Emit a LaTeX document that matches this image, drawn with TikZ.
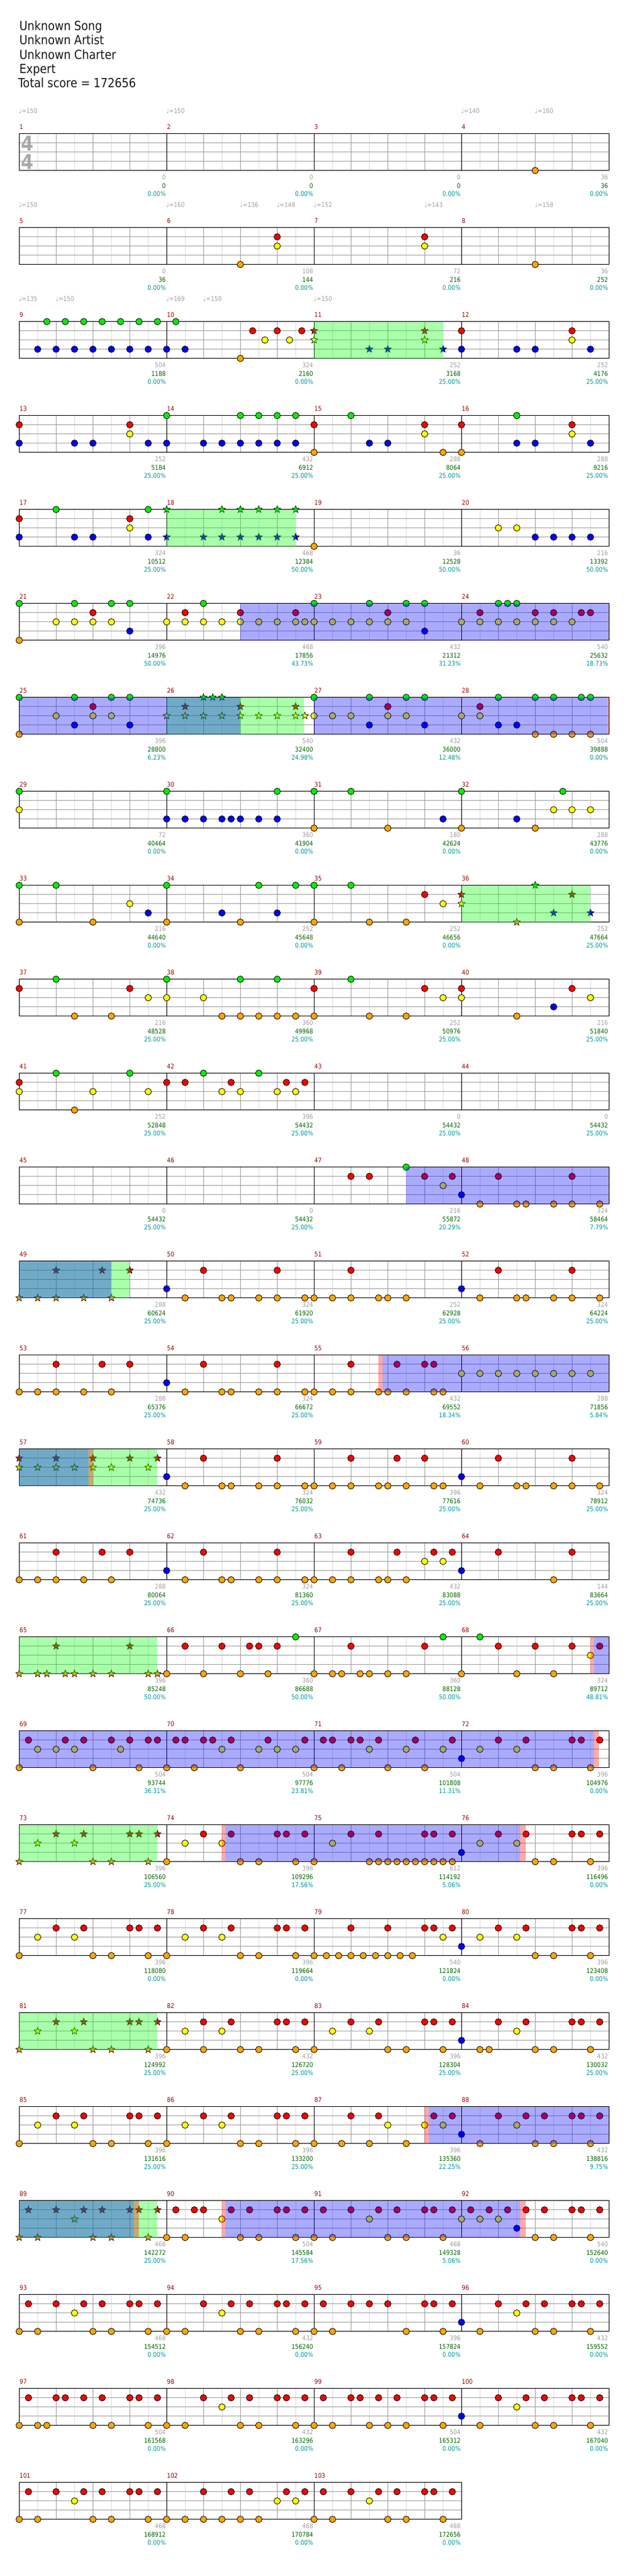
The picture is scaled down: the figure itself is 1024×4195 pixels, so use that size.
\documentclass[tikz,border=0pt]{standalone}
\usepackage{fontspec}
\newfontfamily\cond{DejaVu Sans}[FakeStretch=0.88]
\definecolor{ng}{RGB}{0,240,0}
\definecolor{nr}{RGB}{255,0,0}
\definecolor{ny}{RGB}{255,255,0}
\definecolor{nb}{RGB}{0,0,255}
\definecolor{no}{RGB}{255,165,0}
\definecolor{ovG}{RGB}{0,255,0}
\definecolor{ovB}{RGB}{0,0,255}
\definecolor{ovR}{RGB}{255,0,0}
\definecolor{mred}{RGB}{150,0,0}
\definecolor{gtxt}{RGB}{160,160,160}
\definecolor{dgtxt}{RGB}{0,100,0}
\definecolor{ttxt}{RGB}{0,150,150}
\definecolor{lgrid}{RGB}{220,220,220}
\definecolor{mgrid}{RGB}{160,160,160}
\definecolor{tsig}{RGB}{168,168,168}
\def\lng{0}\def\lnr{1}\def\lny{2}\def\lnb{3}\def\lno{4}
\tikzset{
  hdr/.style={anchor=base west, inner sep=0, text={black!90}, font=\cond\fontsize{20.5}{24}\selectfont},
  lbl/.style={anchor=base east, inner sep=0, font=\cond\fontsize{10.5}{12}\selectfont},
  mnum/.style={anchor=base west, inner sep=0, text=mred, font=\cond\fontsize{10.5}{12}\selectfont},
  tmp/.style={anchor=base west, inner sep=0, text=gtxt, font=\cond\fontsize{10.5}{12}\selectfont},
  tsg/.style={anchor=center, inner sep=0, text=tsig, font=\cond\bfseries\fontsize{33}{33}\selectfont},
  notec/.style={draw=black, line width=0.8pt},
  gl/.style={line width=1pt}
}
\def\starpath{(0,-6.2) -- (-1.5,-2.05) -- (-5.9,-1.9) -- (-2.4,0.78) -- (-3.65,5.0) -- (0,2.55) -- (3.65,5.0) -- (2.4,0.78) -- (5.9,-1.9) -- (1.5,-2.05) -- cycle}
% staff row: #1 row index, #2 number of measures
\newcommand\Row[2]{%
  \pgfmathsetmacro\yt{217.7+153*#1}%
  \pgfmathtruncatemacro\nn{8*#2-1}%
  \foreach \i in {1,3,...,\nn}{\draw[gl,lgrid] (31.3+30*\i,\yt) -- ++(0,60);}%
  \pgfmathtruncatemacro\mm{#2-1}%
  \foreach \k in {0,...,\mm}{\foreach \b in {1,2,3}{\draw[gl,mgrid] (31.3+240*\k+60*\b,\yt) -- ++(0,60);}}%
  \foreach \l in {1,2,3}{\draw[gl,mgrid] (31.3,\yt+15*\l) -- ++(240*#2,0);}%
  \draw[gl,black] (31.3,\yt) rectangle ++(240*#2,60);%
  \ifnum#2>1 \foreach \k in {1,...,\mm}{\draw[gl,black] (31.3+240*\k,\yt) -- ++(0,60);}\fi
}
% measure labels
\newcommand\Meas[4]{%
  \pgfmathtruncatemacro\rr{(#1-1)/4}%
  \pgfmathtruncatemacro\cc{#1-1-4*\rr}%
  \pgfmathsetmacro\xa{31.3+240*\cc}%
  \pgfmathsetmacro\yt{217.7+153*\rr}%
  \node[mnum] (mn#1) at (\xa+0.4,\yt-7.4) {#1};
  \node[lbl,text=gtxt] (sa#1) at (\xa+238.7,\yt+75.2) {#2};
  \node[lbl,text=dgtxt] (sb#1) at (\xa+238.7,\yt+88.4) {#3};
  \node[lbl,text=ttxt] (sc#1) at (\xa+238.7,\yt+101.7) {#4};
}
% tempo
\newcommand\T[3]{%
  \pgfmathtruncatemacro\rr{(#1-1)/4}%
  \pgfmathtruncatemacro\cc{#1-1-4*\rr}%
  \node[tmp] (tp#1x#2) at (31.3+240*\cc+60*#2-0.6,184.3+153*\rr) {♩=#3};
}
% notes
\newcommand\M[2]{%
  \pgfmathtruncatemacro\rr{(#1-1)/4}%
  \pgfmathtruncatemacro\cc{#1-1-4*\rr}%
  \edef\tmplist{#2}%
  \foreach \bt/\cl in \tmplist{%
    \fill[notec,fill=n\cl] (31.3+240*\cc+60*\bt,217.7+153*\rr+15*\csname ln\cl\endcsname) circle[radius=5.3];
  }}
% star notes
\newcommand\St[2]{%
  \pgfmathtruncatemacro\rr{(#1-1)/4}%
  \pgfmathtruncatemacro\cc{#1-1-4*\rr}%
  \edef\tmplist{#2}%
  \foreach \bt/\cl in \tmplist{%
    \filldraw[notec,line width=0.6pt,fill=n\cl,shift={(31.3+240*\cc+60*\bt,217.7+153*\rr+15*\csname ln\cl\endcsname)}] \starpath;
  }}
% overlays: colour, m1, b1, m2, b2 (same row)
\newcommand\ov[5]{%
  \pgfmathtruncatemacro\rr{(#2-1)/4}%
  \pgfmathtruncatemacro\ca{#2-1-4*\rr}%
  \pgfmathtruncatemacro\cb{#4-1-4*\rr}%
  \fill[fill=ov#1,fill opacity=0.333] (31.3+240*\ca+60*#3,217.7+153*\rr) rectangle (31.3+240*\cb+60*#5,277.7+153*\rr);
}
\def\pA{0/b,0.5/o,1/r,1.5/o,1.75/o,2.5/o,3/r,3/o,3.75/o}
\def\pB{0/o,0.5/y,1/r,1.5/y,1.75/r,2/o,2.5/o,3/r,3.25/r,3.5/o,3.75/r}
\def\pC{0/b,0.5/y,1/r,1.5/y,1.75/r,2/o,2.5/o,3/r,3.25/r,3.5/o,3.75/r}
\def\pD{0/o,0.25/r,0.5/o,1/r,1.5/y,1.75/r,2/o,2.25/r,2.5/o,3/r,3.25/r,3.5/o,3.75/r}
\def\pE{0/b,0.5/o,1/r,1.5/y,1.75/r,2/o,2.25/r,2.5/o,3/r,3.25/r,3.5/o,3.75/r}
\def\pF{0/o,0.5/o,1/r,1/o,1.75/o,2.25/r,2.5/o,3/r}
\begin{document}
\begin{tikzpicture}[x=1pt,y=-1pt]
\fill[white] (0,0) rectangle (1024,4195);
\useasboundingbox (0,0) rectangle (1024,4195);
% header
\node[hdr] (song) at (31.3,49.3) {Unknown Song};
\node[hdr] (artist) at (31.3,72.7) {Unknown Artist};
\node[hdr] (charter) at (31.3,96) {Unknown Charter};
\node[hdr] (diff) at (31.3,119.3) {Expert};
\node[hdr] (total) at (29.3,142.7) {Total score = 172656};
% staves
\foreach \r in {0,...,24}{\Row{\r}{4}}
\Row{25}{3}
\node[tsg] (tsa) at (44.5,233) {4};
\node[tsg] (tsb) at (44.5,263) {4};
% tempos
\T{1}{0}{150}\T{2}{0}{150}\T{4}{0}{140}\T{4}{2}{160}
\T{5}{0}{150}\T{6}{0}{160}\T{6}{2}{136}\T{6}{3}{148}\T{7}{0}{152}\T{7}{3}{143}\T{8}{2}{158}
\T{9}{0}{135}\T{9}{1}{150}\T{10}{0}{169}\T{10}{1}{150}\T{11}{0}{150}
% notes
\M{4}{2/o}
\M{6}{2/o,3/r,3/y}
\M{7}{3/r,3/y}
\M{8}{2/o}
\M{9}{0.75/g,1.25/g,1.75/g,2.25/g,2.75/g,3.25/g,3.75/g,0.5/b,1/b,1.5/b,2/b,2.5/b,3/b,3.5/b}
\M{10}{0.25/g,0/b,0.5/b,2/o,2.3333/r,2.6667/y,3/r,3.3333/y,3.6667/r}
\St{11}{0/r,0/y,1.5/b,2/b,3/r,3/y,3.5/b}
\M{12}{0/r,0/b,1.5/b,2/b,3/r,3/y,3.5/b}
\M{13}{0/r,0/b,1.5/b,2/b,3/r,3/y,3.5/b}
\M{14}{0/g,0/b,1/b,1.5/b,2/g,2/b,2.5/g,2.5/b,3/g,3/b,3.5/g,3.5/b}
\M{15}{0/r,0/o,1/g,1.5/b,2/b,3/r,3/y,3.5/o}
\M{16}{0/r,0/o,1.5/g,1.5/b,2/b,3/r,3/y,3.5/b}
\M{17}{0/r,0/b,1/g,1.5/b,2/b,3/r,3/y,3.5/g,3.5/b}
\St{18}{0/g,0/b,1/b,1.5/g,1.5/b,2/g,2/b,2.5/g,2.5/b,3/g,3/b,3.5/g,3.5/b}
\M{19}{0/o}
\M{20}{1/y,1.5/y,2/b,2.5/b,3/b,3.5/b}
\M{21}{0/g,0/o,1/y,1.5/g,1.5/y,2/r,2/y,2.5/g,2.5/y,3/g,3/b}
\M{22}{0/y,0.5/r,0.5/y,1/g,1/y,1.5/y,2/r,2/y,2.5/y,3/y,3.5/r,3.5/y,3.75/y}
\M{23}{0/g,0/y,0.5/y,1/y,1.5/g,1.5/y,2/r,2/y,2.5/g,2.5/y,3/g,3/b}
\M{24}{0/y,0.5/r,0.5/y,1/g,1/y,1.25/g,1.5/g,1.5/y,2/r,2/y,2.5/r,2.5/y,3/y,3.25/r,3.5/r}
\M{25}{0/g,0/o,1/y,1.5/g,1.5/b,2/r,2/y,2.5/g,2.5/y,3/g,3/b}
\St{26}{0/y,0.5/r,0.5/y,1/g,1/y,1.25/g,1.5/g,1.5/y,2/r,2/y,2.5/y,3/y,3.5/r,3.5/y,3.75/y}
\M{27}{0/g,0/y,0.5/y,1/y,1.5/g,1.5/b,2/r,2/y,2.5/g,2.5/y,3/g,3/b}
\M{28}{0/y,0.5/r,0.5/y,1/g,1/b,1.5/b,2/g,2/o,2.5/g,2.5/o,3/o,3.25/g,3.5/g,3.5/o}
\M{29}{0/g,0/y}
\M{30}{0/g,0/b,0.5/b,1/b,1.5/b,1.75/b,2/b,2.5/b,3/g,3/b}
\M{31}{0/g,0/o,1/g,2/o,3.5/b}
\M{32}{0/g,0/o,1.5/b,2/o,2.5/y,2.75/g,3/y,3.5/y}
\M{33}{0/g,0/o,1/g,2/o,3/y,3.5/b}
\M{34}{0/g,0/o,1.5/b,2/o,2.5/g,3/b,3.5/g}
\M{35}{0/g,0/o,1/g,1.5/o,2.5/o,3/r,3.5/y}
\St{36}{0/r,0/y,1.5/o,2/g,2.5/b,3/r,3.5/b}
\M{37}{0/r,1/g,1.5/o,2.5/o,3/r,3.5/y}
\M{38}{0/g,0/y,1/y,1.5/o,2/g,2/o,2.5/o,3/g,3/o,3.5/o}
\M{39}{0/r,0/o,1/g,1.5/o,2.5/o,3/r,3.5/y}
\M{40}{0/r,0/y,1.5/o,2.5/b,3/r,3.5/y}
\M{41}{0/r,0/y,1/g,1.5/o,2/y,3/g,3.5/y}
\M{42}{0/r,0.5/r,1/g,1.5/y,1.75/r,2/y,2.5/g,3/y,3.25/r,3.5/y,3.75/r}
\M{47}{1/r,1.5/r,2.5/g,3/r,3.5/y,3.75/r}
\M{48}{\pA}
\St{49}{0/o,0.5/o,1/r,1/o,1.75/o,2.25/r,2.5/o,3/r}
\M{50}{\pA}
\M{51}{0/o,0.5/o,1/r,1/o,1.75/o,2/o,2.5/o}
\M{52}{\pA}
\M{53}{\pF}
\M{54}{\pA}
\M{55}{0/o,0.5/o,1/r,1/o,1.75/o,2/o,2.25/r,2.5/o,3/r,3.25/r,3.25/o,3.5/o}
\M{56}{0/y,0.5/y,1/y,1.5/y,2/y,2.5/y,3/y,3.5/y}
\St{57}{0/r,0/y,0.5/y,1/r,1/y,1.5/y,2/r,2/y,2.5/y,3/r,3.5/y,3.75/r}
\M{58}{\pA}
\M{59}{0/o,0.5/o,1/r,1/o,1.75/o,2/o,2.25/r,2.5/o,3/r,3.25/o,3.5/o}
\M{60}{\pA}
\M{61}{\pF}
\M{62}{\pA}
\M{63}{0/o,0.5/o,1/r,1/o,1.75/o,2/o,2.25/r,2.5/o,3/y,3.25/r,3.5/y,3.75/r}
\M{64}{0/b,1/r,2.5/o,3/r}
\St{65}{0/o,0.5/o,0.75/o,1/r,1.25/o,1.5/o,2/o,2.5/o,3/r,3.5/o,3.75/o}
\M{66}{0/o,0.5/r,1/o,1.5/r,2/o,2.25/r,2.5/r,2.75/o,3/r,3.5/g}
\M{67}{0/o,0.5/o,0.75/o,1/r,1.25/o,1.5/o,2/o,2.5/o,3/r,3.5/g}
\M{68}{0/o,0.5/g,1/r,1.5/o,2/r,2.5/o,3/r,3.5/y,3.75/r}
\M{69}{0/o,0.25/r,0.5/y,1/y,1.25/r,1.5/y,1.75/r,2/o,2.5/r,2.75/y,3/r,3.25/o,3.5/r,3.75/r}
\M{70}{0/o,0.25/r,0.5/r,0.75/o,1/r,1.25/r,1.5/y,1.75/r,2/o,2.5/y,2.75/r,3/y,3.5/y,3.75/r}
\M{71}{0/o,0.25/r,0.5/r,0.75/o,1/r,1.25/r,1.5/y,1.75/r,2/o,2.5/y,2.75/r,3/o,3.5/y,3.75/r}
\M{72}{\pC}
\St{73}{\pB}
\M{74}{\pB}
\M{75}{0/o,0.5/y,1/r,1.5/o,1.75/r,1.75/o,2/o,2.25/o,2.5/o,2.75/o,3/r,3/o,3.25/r,3.25/o,3.5/o,3.75/r,3.75/o}
\M{76}{\pC}
\M{77}{\pB}
\M{78}{\pB}
\M{79}{0/o,0.3333/o,0.6667/o,1/r,1/o,1.3333/o,1.6667/o,2/r,2/o,2.3333/o,2.6667/o,3/r,3.25/r,3.5/y,3.75/r}
\M{80}{\pC}
\St{81}{\pB}
\M{82}{0/o,0.5/y,1/r,1/o,1.5/y,1.75/r,2/o,2.5/o,3/r,3.25/r,3.5/o,3.75/r}
\M{83}{\pB}
\M{84}{0/b,0.5/o,0.75/o,1/r,1.5/y,1.75/r,2/o,2.5/o,3/r,3.25/r,3.5/o,3.75/r}
\M{85}{\pB}
\M{86}{\pB}
\M{87}{0/o,0.75/o,1/r,1.5/o,1.75/r,2/y,2.5/o,3/y,3.25/r,3.5/y,3.75/r}
\M{88}{\pE}
\St{89}{\pD}
\M{90}{0/o,0.25/r,0.5/o,0.75/r,1/r,1.5/y,1.75/r,2/o,2.25/r,2.5/o,3/r,3.25/r,3.5/o,3.75/r}
\M{91}{\pD}
\M{92}{0/y,0.25/r,0.5/y,0.75/r,1/y,1.25/r,1.5/b,1.75/r,2/o,2.25/r,2.5/o,3/r,3.25/r,3.5/o,3.75/r}
\M{93}{\pD}
\M{94}{0/o,0.5/o,1/r,1.5/y,1.75/r,2/o,2.25/r,2.5/o,3/r,3.25/r,3.5/o,3.75/r}
\M{95}{0/o,0.25/r,0.5/o,1/r,1.5/r,2/r,2.5/o,3/r,3.25/r,3.5/o,3.75/r}
\M{96}{\pE}
\M{97}{0/o,0.25/r,0.5/o,0.75/o,1/r,1.25/r,1.75/r,2/o,2.25/r,2.5/o,3/r,3.25/r,3.5/o,3.75/r}
\M{98}{0/o,0.5/o,1/r,1.5/y,1.75/r,2/o,2.25/r,2.5/o,3/r,3.25/r,3.5/o,3.75/r}
\M{99}{0/o,0.25/r,0.5/o,1/r,1.25/r,1.5/o,1.75/r,2/o,2.25/r,2.5/o,3/r,3.25/r,3.5/o,3.75/r}
\M{100}{\pE}
\M{101}{\pD}
\M{102}{0/o,0.5/o,1/r,1/o,1.5/o,1.75/r,2/o,2.25/r,2.5/o,3/y,3.25/r,3.5/y,3.75/r}
\M{103}{\pD}
% overlays
\ov{G}{11}{0}{11}{3.5}
\ov{G}{18}{0}{18}{3.5}
\ov{G}{26}{0}{26}{3.73}
\ov{G}{36}{0}{36}{3.5}
\ov{G}{49}{0}{49}{3}
\ov{G}{57}{0}{57}{3.74}
\ov{G}{65}{0}{65}{3.74}
\ov{G}{73}{0}{73}{3.74}
\ov{G}{81}{0}{81}{3.74}
\ov{G}{89}{0}{89}{3.74}
\ov{B}{22}{2}{24}{4}
\ov{B}{25}{0}{26}{2}
\ov{B}{27}{0}{28}{3.96}\ov{R}{28}{3.96}{28}{4}
\ov{B}{47}{2.5}{48}{4}
\ov{B}{49}{0}{49}{2.5}
\ov{R}{55}{1.75}{55}{1.86}\ov{B}{55}{1.86}{56}{4}
\ov{B}{57}{0}{57}{1.87}\ov{R}{57}{1.87}{57}{2}
\ov{R}{68}{3.5}{68}{3.6}\ov{B}{68}{3.6}{68}{4}
\ov{B}{69}{0}{72}{3.6}\ov{R}{72}{3.6}{72}{3.73}
\ov{R}{74}{1.5}{74}{1.6}\ov{B}{74}{1.6}{76}{1.6}\ov{R}{76}{1.6}{76}{1.74}
\ov{R}{87}{3}{87}{3.11}\ov{B}{87}{3.11}{88}{4}
\ov{B}{89}{0}{89}{3.11}\ov{R}{89}{3.11}{89}{3.24}
\ov{R}{90}{1.5}{90}{1.6}\ov{B}{90}{1.6}{92}{1.6}\ov{R}{92}{1.6}{92}{1.74}
% measure labels
\Meas{1}{0}{0}{0.00\%}\Meas{2}{0}{0}{0.00\%}\Meas{3}{0}{0}{0.00\%}\Meas{4}{36}{36}{0.00\%}
\Meas{5}{0}{36}{0.00\%}\Meas{6}{108}{144}{0.00\%}\Meas{7}{72}{216}{0.00\%}\Meas{8}{36}{252}{0.00\%}
\Meas{9}{504}{1188}{0.00\%}\Meas{10}{324}{2160}{0.00\%}\Meas{11}{252}{3168}{25.00\%}\Meas{12}{252}{4176}{25.00\%}
\Meas{13}{252}{5184}{25.00\%}\Meas{14}{432}{6912}{25.00\%}\Meas{15}{288}{8064}{25.00\%}\Meas{16}{288}{9216}{25.00\%}
\Meas{17}{324}{10512}{25.00\%}\Meas{18}{468}{12384}{50.00\%}\Meas{19}{36}{12528}{50.00\%}\Meas{20}{216}{13392}{50.00\%}
\Meas{21}{396}{14976}{50.00\%}\Meas{22}{468}{17856}{43.73\%}\Meas{23}{432}{21312}{31.23\%}\Meas{24}{540}{25632}{18.73\%}
\Meas{25}{396}{28800}{6.23\%}\Meas{26}{540}{32400}{24.98\%}\Meas{27}{432}{36000}{12.48\%}\Meas{28}{504}{39888}{0.00\%}
\Meas{29}{72}{40464}{0.00\%}\Meas{30}{360}{41904}{0.00\%}\Meas{31}{180}{42624}{0.00\%}\Meas{32}{288}{43776}{0.00\%}
\Meas{33}{216}{44640}{0.00\%}\Meas{34}{252}{45648}{0.00\%}\Meas{35}{252}{46656}{0.00\%}\Meas{36}{252}{47664}{25.00\%}
\Meas{37}{216}{48528}{25.00\%}\Meas{38}{360}{49968}{25.00\%}\Meas{39}{252}{50976}{25.00\%}\Meas{40}{216}{51840}{25.00\%}
\Meas{41}{252}{52848}{25.00\%}\Meas{42}{396}{54432}{25.00\%}\Meas{43}{0}{54432}{25.00\%}\Meas{44}{0}{54432}{25.00\%}
\Meas{45}{0}{54432}{25.00\%}\Meas{46}{0}{54432}{25.00\%}\Meas{47}{216}{55872}{20.29\%}\Meas{48}{324}{58464}{7.79\%}
\Meas{49}{288}{60624}{25.00\%}\Meas{50}{324}{61920}{25.00\%}\Meas{51}{252}{62928}{25.00\%}\Meas{52}{324}{64224}{25.00\%}
\Meas{53}{288}{65376}{25.00\%}\Meas{54}{324}{66672}{25.00\%}\Meas{55}{432}{69552}{18.34\%}\Meas{56}{288}{71856}{5.84\%}
\Meas{57}{432}{74736}{25.00\%}\Meas{58}{324}{76032}{25.00\%}\Meas{59}{396}{77616}{25.00\%}\Meas{60}{324}{78912}{25.00\%}
\Meas{61}{288}{80064}{25.00\%}\Meas{62}{324}{81360}{25.00\%}\Meas{63}{432}{83088}{25.00\%}\Meas{64}{144}{83664}{25.00\%}
\Meas{65}{396}{85248}{50.00\%}\Meas{66}{360}{86688}{50.00\%}\Meas{67}{360}{88128}{50.00\%}\Meas{68}{324}{89712}{48.81\%}
\Meas{69}{504}{93744}{36.31\%}\Meas{70}{504}{97776}{23.81\%}\Meas{71}{504}{101808}{11.31\%}\Meas{72}{396}{104976}{0.00\%}
\Meas{73}{396}{106560}{25.00\%}\Meas{74}{396}{109296}{17.56\%}\Meas{75}{612}{114192}{5.06\%}\Meas{76}{396}{116496}{0.00\%}
\Meas{77}{396}{118080}{0.00\%}\Meas{78}{396}{119664}{0.00\%}\Meas{79}{540}{121824}{0.00\%}\Meas{80}{396}{123408}{0.00\%}
\Meas{81}{396}{124992}{25.00\%}\Meas{82}{432}{126720}{25.00\%}\Meas{83}{396}{128304}{25.00\%}\Meas{84}{432}{130032}{25.00\%}
\Meas{85}{396}{131616}{25.00\%}\Meas{86}{396}{133200}{25.00\%}\Meas{87}{396}{135360}{22.25\%}\Meas{88}{432}{138816}{9.75\%}
\Meas{89}{468}{142272}{25.00\%}\Meas{90}{504}{145584}{17.56\%}\Meas{91}{468}{149328}{5.06\%}\Meas{92}{540}{152640}{0.00\%}
\Meas{93}{468}{154512}{0.00\%}\Meas{94}{432}{156240}{0.00\%}\Meas{95}{396}{157824}{0.00\%}\Meas{96}{432}{159552}{0.00\%}
\Meas{97}{504}{161568}{0.00\%}\Meas{98}{432}{163296}{0.00\%}\Meas{99}{504}{165312}{0.00\%}\Meas{100}{432}{167040}{0.00\%}
\Meas{101}{468}{168912}{0.00\%}\Meas{102}{468}{170784}{0.00\%}\Meas{103}{468}{172656}{0.00\%}
\end{tikzpicture}
\end{document}
